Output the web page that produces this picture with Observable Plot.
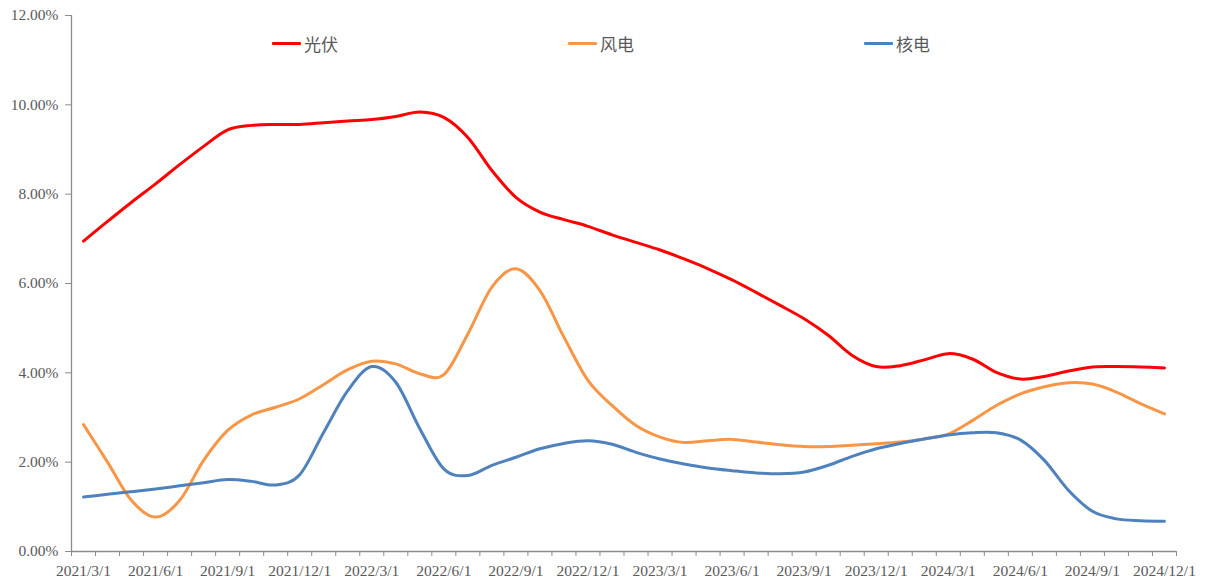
<!DOCTYPE html>
<html><head><meta charset="utf-8">
<script src="https://cdn.jsdelivr.net/npm/d3@7"></script>
<script src="https://cdn.jsdelivr.net/npm/@observablehq/plot@0.6"></script>
<style>
body{margin:0;background:#fff;}
#wrap{position:relative;width:1207px;height:581px;}
.legend{position:absolute;top:31px;left:0;width:1207px;height:24px;font-family:"Noto Sans CJK SC",sans-serif;font-size:17px;color:#595959;}
.item{position:absolute;top:0;display:flex;align-items:center;height:24px;}
.sw{display:inline-block;width:29px;height:3px;margin-right:3px;border-radius:1px;}
</style></head><body><div id="wrap"></div>
<script>
const months = ["2021/3/1","2021/4/1","2021/5/1","2021/6/1","2021/7/1","2021/8/1","2021/9/1","2021/10/1","2021/11/1","2021/12/1",
"2022/1/1","2022/2/1","2022/3/1","2022/4/1","2022/5/1","2022/6/1","2022/7/1","2022/8/1","2022/9/1","2022/10/1","2022/11/1","2022/12/1",
"2023/1/1","2023/2/1","2023/3/1","2023/4/1","2023/5/1","2023/6/1","2023/7/1","2023/8/1","2023/9/1","2023/10/1","2023/11/1","2023/12/1",
"2024/1/1","2024/2/1","2024/3/1","2024/4/1","2024/5/1","2024/6/1","2024/7/1","2024/8/1","2024/9/1","2024/10/1","2024/11/1","2024/12/1"];
const pv = [6.95,7.39,7.82,8.23,8.66,9.07,9.44,9.54,9.56,9.56,9.60,9.64,
9.67,9.74,9.84,9.72,9.27,8.53,7.93,7.60,7.43,7.28,7.09,6.92,
6.75,6.55,6.33,6.08,5.80,5.51,5.21,4.84,4.39,4.14,4.16,4.29,
4.43,4.31,4.01,3.86,3.92,4.04,4.13,4.14,4.13,4.11];
const wind = [2.84,2.00,1.14,0.77,1.14,2.04,2.71,3.06,3.23,3.42,3.74,4.07,
4.26,4.20,3.98,3.96,4.87,5.92,6.33,5.84,4.80,3.83,3.27,2.82,
2.56,2.44,2.48,2.51,2.45,2.39,2.35,2.35,2.38,2.41,2.45,2.52,
2.63,2.93,3.27,3.53,3.69,3.78,3.75,3.57,3.31,3.08];
const nuclear = [1.22,1.28,1.34,1.40,1.47,1.54,1.61,1.57,1.49,1.72,2.67,3.60,
4.14,3.79,2.75,1.85,1.70,1.93,2.11,2.30,2.42,2.48,2.40,2.22,
2.07,1.96,1.87,1.81,1.76,1.74,1.78,1.93,2.13,2.30,2.42,2.52,
2.61,2.66,2.66,2.50,2.04,1.37,0.90,0.73,0.69,0.68];
const tickLabels = ["2021/3/1","2021/6/1","2021/9/1","2021/12/1","2022/3/1","2022/6/1","2022/9/1","2022/12/1",
"2023/3/1","2023/6/1","2023/9/1","2023/12/1","2024/3/1","2024/6/1","2024/9/1","2024/12/1"];
const yTicks = [0,2,4,6,8,10,12];
const seriesNames = ["光伏","风电","核电"];
const seriesColors = ["#FF0000","#F79646","#4F81BD"];

const seriesValues = [pv, wind, nuclear];
const data = [];
seriesNames.forEach((name, s) => {
  seriesValues[s].forEach((v, i) => data.push({series: name, i, month: months[i], value: v}));
});
const labelIdx = tickLabels.map(l => months.indexOf(l));
const boundaries = d3.range(months.length + 1).map(k => k - 0.5);
const axisFont = '"Liberation Serif", "DejaVu Serif", serif';
const gray = "#8c8c8c";

const chart = Plot.plot({
  width: 1207,
  height: 581,
  marginLeft: 71,
  marginRight: 31,
  marginTop: 15,
  marginBottom: 30,
  style: {fontFamily: axisFont, fontSize: "15px", color: "#595959", background: "#fff", overflow: "visible"},
  x: {type: "linear", domain: [-0.5, months.length - 0.5], axis: null},
  y: {domain: [0, 12], axis: null},
  color: {domain: seriesNames, range: seriesColors},
  marks: [
    Plot.axisY({ticks: yTicks, tickFormat: d => d.toFixed(2) + "%", tickSize: 6, tickPadding: 7, stroke: gray, fill: "#595959", fontSize: 15.5, label: null}),
    Plot.axisX({ticks: boundaries, tickFormat: () => "", tickSize: 5, stroke: gray, label: null}),
    Plot.axisX({ticks: labelIdx, tickFormat: i => months[i], tickSize: 0, tickPadding: 13, fill: "#595959", fontSize: 15.5, label: null}),
    Plot.ruleX([-0.5], {stroke: gray, strokeWidth: 1.3}),
    Plot.ruleY([0], {stroke: gray, strokeWidth: 1.3}),
    Plot.line(data, {x: "i", y: "value", z: "series", stroke: "series", strokeWidth: 3, curve: "cardinal", tension: 0})
  ]
});

const wrap = document.getElementById("wrap");
wrap.appendChild(chart);

const legend = document.createElement("div");
legend.className = "legend";
const legendLeft = [272, 568, 864];
seriesNames.forEach((name, s) => {
  const item = document.createElement("div");
  item.className = "item";
  item.style.left = legendLeft[s] + "px";
  const sw = document.createElement("span");
  sw.className = "sw";
  sw.style.background = seriesColors[s];
  const t = document.createElement("span");
  t.textContent = name;
  item.appendChild(sw);
  item.appendChild(t);
  legend.appendChild(item);
});
wrap.appendChild(legend);
</script>
</body></html>
